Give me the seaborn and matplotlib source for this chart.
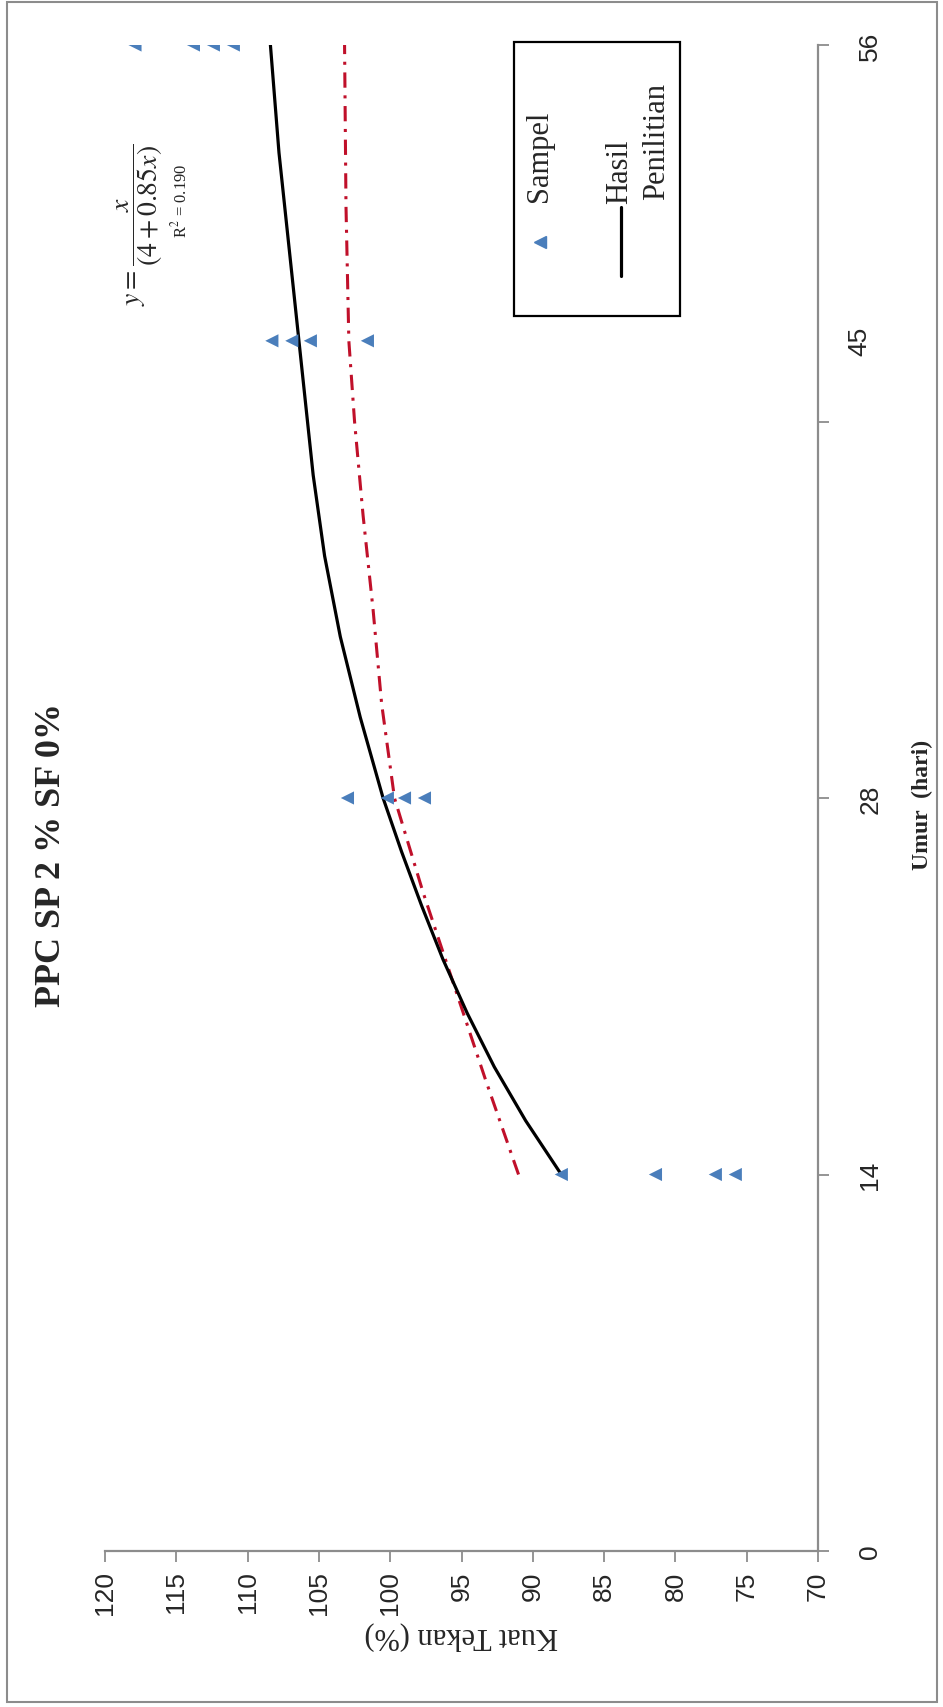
import matplotlib
matplotlib.use("Agg")
import matplotlib.pyplot as plt
import seaborn as sns
import pandas as pd
from matplotlib.patches import Rectangle
from matplotlib.lines import Line2D

# Sample points: age (days) vs compressive strength (%)
sample_days = [14, 14, 14, 14, 28, 28, 28, 28, 45, 45, 45, 45, 56, 56, 56, 56]
sample_strength = [88.0, 81.4, 77.2, 75.8, 103.0, 100.2, 99.0, 97.6,
                   108.3, 106.9, 105.6, 101.6, 117.9, 113.8, 112.4, 111.0]

# Black curve "Hasil Penilitian"
fit_days = [14, 16, 18, 20, 22, 24, 26, 28, 31, 34, 37, 40, 43, 46, 49, 52, 56]
fit_strength = [88.0, 90.5, 92.7, 94.6, 96.3, 97.8, 99.2, 100.5, 102.1, 103.5,
                104.6, 105.4, 106.0, 106.6, 107.2, 107.8, 108.4]

# Red dash-dot curve
trend_days = [14, 17.5, 21, 24.5, 28, 31.5, 35, 38.5, 42, 45, 50, 56]
trend_strength = [91.0, 93.3, 95.5, 97.7, 99.7, 100.6, 101.2, 101.9, 102.5,
                  102.9, 103.1, 103.2]

strength_ticks = [120, 115, 110, 105, 100, 95, 90, 85, 80, 75, 70]
day_ticks = [0, 14, 28, 42, 56]
day_labels = ["0", "14", "28", "", "56"]

sns.set_style("white")
plt.rcParams["font.family"] = ["Liberation Serif", "DejaVu Serif"]
plt.rcParams["mathtext.fontset"] = "stix"

W, H = 943, 1708
fig = plt.figure(figsize=(W / 100, H / 100), dpi=100)

def fx(px):
    return px / W

def fy(py):
    return 1 - py / H

left, right, top, bottom = 105, 818, 46, 1552
ax = fig.add_axes([fx(left), fy(bottom), fx(right - left), (bottom - top) / H])

samples = pd.DataFrame({"day": sample_days, "strength": sample_strength})
fit = pd.DataFrame({"day": fit_days, "strength": fit_strength})
trend = pd.DataFrame({"day": trend_days, "strength": trend_strength})

sns.lineplot(data=trend, x="strength", y="day", sort=False, estimator=None,
             color="#c0102a", linewidth=2.2, linestyle=(0, (5, 2.5, 1, 2.5)), ax=ax)
sns.lineplot(data=fit, x="strength", y="day", sort=False, estimator=None,
             color="black", linewidth=2.3, ax=ax)
sns.scatterplot(data=samples, x="strength", y="day", marker="<", s=90,
                color="#4a7ebb", edgecolor="none", ax=ax, zorder=5)

ax.set_xlim(120, 70)
ax.set_ylim(0, 56)
ax.set_xlabel("")
ax.set_ylabel("")

for s in ["top", "left"]:
    ax.spines[s].set_visible(False)
for s in ["bottom", "right"]:
    ax.spines[s].set_color("#8c8c8c")
    ax.spines[s].set_linewidth(1.6)

ax.yaxis.tick_right()
ax.set_xticks(strength_ticks)
ax.set_xticklabels([str(v) for v in strength_ticks], rotation=90,
                   fontfamily="Liberation Sans", fontsize=19)
ax.set_yticks(day_ticks)
ax.set_yticklabels(day_labels, rotation=90, va="center",
                   fontfamily="Liberation Sans", fontsize=19)
ax.set_yticks([45], labels=["45"], minor=True)
for lab in ax.get_yticklabels(minor=True):
    lab.set_rotation(90)
    lab.set_va("center")
    lab.set_fontfamily("Liberation Sans")
    lab.set_fontsize(19)
ax.tick_params(axis="both", which="major", direction="out", length=8, width=1.3,
               color="#8c8c8c", bottom=True, right=True)
ax.tick_params(axis="x", pad=6)
ax.tick_params(axis="y", which="both", pad=21)
ax.tick_params(axis="y", which="minor", length=0, right=True)

# titles and axis labels (rotated with the chart)
fig.text(fx(52), fy(855), "PPC SP 2 % SF 0%", rotation=90, fontsize=26,
         fontweight="bold", ha="center", va="center")
fig.text(fx(922), fy(805), "Umur  (hari)", rotation=90, fontsize=17,
         fontweight="bold", ha="center", va="center")
fig.text(fx(461), fy(1636), "Kuat Tekan (%)", rotation=180, fontsize=22,
         ha="center", va="center")

# equation
fig.text(fx(140), fy(306), r"$y = \dfrac{x}{(4+0.85x)}$", rotation=90,
         rotation_mode="anchor", ha="left", va="center", fontsize=20)
fig.text(fx(180), fy(238), r"R$^2$ = 0.190", rotation=90,
         rotation_mode="anchor", ha="left", va="center", fontsize=12)

# legend box, drawn rotated like the rest
fig.patches.append(Rectangle((fx(514), fy(317)), fx(680 - 514), (317 - 43) / H,
                             transform=fig.transFigure, fill=False,
                             edgecolor="black", linewidth=1.6))
fig.lines.append(Line2D([fx(540)], [fy(243)], marker="<", markersize=9,
                        color="#4a7ebb", linestyle="none",
                        transform=fig.transFigure))
fig.lines.append(Line2D([fx(621), fx(621)], [fy(208), fy(277)], color="black",
                        linewidth=2.3, transform=fig.transFigure))
fig.text(fx(540), fy(202), "Sampel", rotation=90, rotation_mode="anchor",
         ha="left", va="center", fontsize=22)
fig.text(fx(620), fy(204), "Hasil", rotation=90, rotation_mode="anchor",
         ha="left", va="center", fontsize=22)
fig.text(fx(657), fy(200), "Penilitian", rotation=90, rotation_mode="anchor",
         ha="left", va="center", fontsize=22)

# outer chart border
fig.patches.append(Rectangle((fx(7), fy(1703)), fx(930), 1700 / H,
                             transform=fig.transFigure, fill=False,
                             edgecolor="#8c8c8c", linewidth=1.5))

fig.savefig("out.png", dpi=100, facecolor="white")
